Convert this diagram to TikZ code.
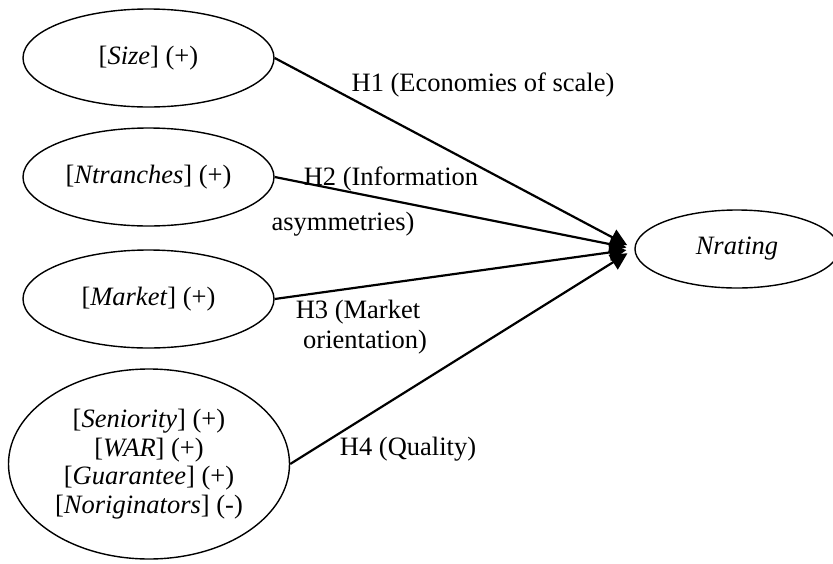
\documentclass[tikz,border=0pt]{standalone}
\usepackage{fontspec}
\setmainfont{Liberation Serif}
\usetikzlibrary{shapes.geometric,arrows.meta}
\tikzset{
  every node/.style={font=\fontsize{26.5}{28.5}\selectfont},
  var/.style={draw,ellipse,line width=1.4pt,inner sep=0pt},
  hyp/.style={line width=2.2pt,-{Triangle[length=17pt,width=17pt]},shorten >=8pt}
}

\begin{document}
\begin{tikzpicture}[x=1pt,y=-1pt]
\useasboundingbox (0,0) rectangle (833,563);

% determinants
\node[var,minimum width=251pt,minimum height=98pt] (size) at (148.5,58) {[\textit{Size}] (+)};
\node[var,minimum width=251pt,minimum height=98pt] (ntranches) at (148.5,177) {[\textit{Ntranches}] (+)};
\node[var,minimum width=251pt,minimum height=98pt] (market) at (148.5,299) {[\textit{Market}] (+)};
\node[var,minimum width=281pt,minimum height=190pt,align=center] (quality) at (149,464)
  {{[}\textit{Seniority}] (+)\\{[}\textit{WAR}] (+)\\{[}\textit{Guarantee}] (+)\\{[}\textit{Noriginators}] (-)};

% outcome
\node[var,minimum width=204pt,minimum height=78pt] (nrating) at (737,249) {\textit{Nrating}};

\draw[hyp] (size.east) -- (nrating.west);
\draw[hyp] (ntranches.east) -- (nrating.west);
\draw[hyp] (market.east) -- (nrating.west);
\draw[hyp] (quality.east) -- (nrating.west);

% hypotheses
\node (h1) at (483,85) {H1 (Economies of scale)};
\node (h2) at (391,179) {H2 (Information};
\node (h2b) at (343,224) {asymmetries)};
\node (h3) at (358,312) {H3 (Market};
\node (h3b) at (365,342) {orientation)};
\node (h4) at (408,449) {H4 (Quality)};
\end{tikzpicture}
\end{document}
